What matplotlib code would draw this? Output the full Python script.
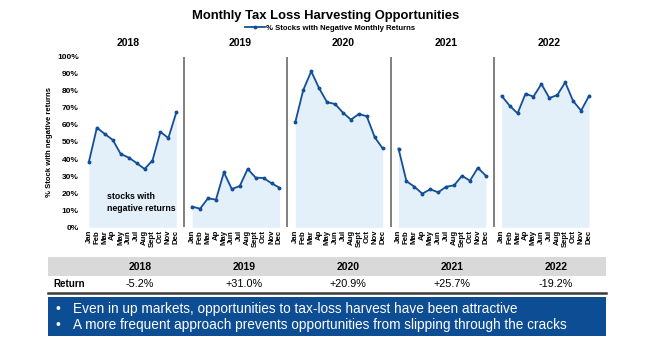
import numpy as np
import matplotlib
matplotlib.use("Agg")
import matplotlib.pyplot as plt
from matplotlib.patches import Rectangle
from matplotlib.lines import Line2D

plt.rcParams['font.family'] = ['Liberation Sans', 'DejaVu Sans']

years = ['2018', '2019', '2020', '2021', '2022']
months = ['Jan', 'Feb', 'Mar', 'Ap', 'May', 'Jun', 'Jul', 'Aug', 'Sept', 'Oct', 'Nov', 'Dec']
returns = ['-5.2%', '+31.0%', '+20.9%', '+25.7%', '-19.2%']

pct_2018 = [38.5, 58.4, 54.7, 51.2, 43.0, 40.9, 37.7, 34.2, 39.1, 56.0, 52.3, 67.3]
pct_2019 = [12.1, 10.9, 17.0, 16.2, 32.2, 22.4, 24.2, 34.2, 29.1, 28.9, 25.8, 23.2]
pct_2020 = [61.7, 80.5, 91.4, 81.5, 73.3, 72.3, 67.2, 63.1, 66.4, 65.1, 52.8, 46.3]
pct_2021 = [46.1, 27.0, 23.8, 19.7, 22.3, 20.5, 23.8, 24.6, 30.2, 27.3, 34.9, 30.2]
pct_2022 = [77.0, 71.3, 66.8, 78.3, 76.6, 84.0, 75.8, 77.5, 85.0, 74.0, 68.4, 77.0]
all_pct = [pct_2018, pct_2019, pct_2020, pct_2021, pct_2022]

bullets = [
    'Even in up markets, opportunities to tax-loss harvest have been attractive',
    'A more frequent approach prevents opportunities from slipping through the cracks',
]

line_color = '#124f96'
fill_color = '#e3eff9'
W, H = 650, 338


def fx(x):
    return x / W


def fy(y):
    return 1 - y / H


fig = plt.figure(figsize=(6.5, 3.38), dpi=100)

# main axes, one slot of 13 per year (12 months + gap)
x0, x1 = 83, 593
y_top, y_bot = 56.7, 227.3
ax = fig.add_axes([fx(x0), fy(y_bot), fx(x1 - x0), (y_bot - y_top) / H])
ax.set_xlim(-0.75, 63.5)
ax.set_ylim(0, 100)

tick_pos = []
tick_lab = []
for i, vals in enumerate(all_pct):
    xs = np.arange(12) + 13 * i
    ax.fill_between(xs, 0, vals, color=fill_color, lw=0)
    ax.plot(xs, vals, color=line_color, lw=1.3, marker='o', ms=1.8,
            label='% Stocks with Negative Monthly Returns' if i == 0 else None)
    tick_pos += list(xs)
    tick_lab += months
    if i < len(all_pct) - 1:
        ax.plot([13 * i + 12, 13 * i + 12], [0, 100], color='#7f7f7f', lw=1.4)
    xc = 13 * i + 5.5 + (0.5 if i > 0 else -0.6)
    ax.text(xc, 108, years[i], ha='center', va='center', fontsize=7.5,
            fontweight='bold', clip_on=False)

for s in ax.spines.values():
    s.set_visible(False)
ax.set_xticks(tick_pos)
ax.set_xticklabels(tick_lab, rotation=90, fontsize=5.6, fontweight='bold')
ax.tick_params(axis='x', length=0, pad=2)
ax.set_yticks(np.arange(0, 101, 10))
ax.set_yticklabels([f'{v}%' for v in range(0, 101, 10)], fontsize=6, fontweight='bold')
ax.tick_params(axis='y', length=0, pad=3)
ax.set_ylabel('% Stock with negative returns', fontsize=5.6, fontweight='bold', labelpad=3)

ax.text(2.3, 14.5, 'stocks with\nnegative returns', fontsize=6.3, fontweight='bold',
        ha='left', va='center', linespacing=1.35)

fig.text(fx(326), fy(16), 'Monthly Tax Loss Harvesting Opportunities', ha='center',
         va='center', fontsize=9.4, fontweight='bold')
fig.legend(loc='center', bbox_to_anchor=(fx(330), fy(28)), frameon=False,
           prop={'size': 5.6, 'weight': 'bold'}, handlelength=2.6, handletextpad=0.2,
           borderaxespad=0, borderpad=0)

# returns table
tx0, tx1 = 48, 606
fig.add_artist(Rectangle((fx(tx0), fy(276)), fx(tx1 - tx0), (276 - 257) / H,
                         transform=fig.transFigure, color='#d9d9d9', lw=0))
col_x = [140, 244, 348, 452, 556]
for cx, yr, r in zip(col_x, years, returns):
    fig.text(fx(cx), fy(266.5), yr, ha='center', va='center', fontsize=7.5, fontweight='bold')
    fig.text(fx(cx), fy(284), r, ha='center', va='center', fontsize=7.8)
fig.text(fx(53), fy(284), 'Return', ha='left', va='center', fontsize=7, fontweight='bold')
fig.add_artist(Line2D([fx(tx0), fx(tx1)], [fy(293), fy(293)], transform=fig.transFigure,
                      color='#3c3c3c', lw=1.8))

fig.add_artist(Rectangle((fx(tx0), fy(336)), fx(tx1 - tx0), (336 - 297) / H,
                         transform=fig.transFigure, color='#0d4d94', lw=0))
for j, b in enumerate(bullets):
    yy = fy(308.5 + 17 * j)
    fig.text(fx(56), yy, '\u2022', ha='left', va='center', fontsize=9.8, color='white')
    fig.text(fx(73), yy, b, ha='left', va='center', fontsize=9.8, color='white')

fig.savefig('out.png', dpi=100)
